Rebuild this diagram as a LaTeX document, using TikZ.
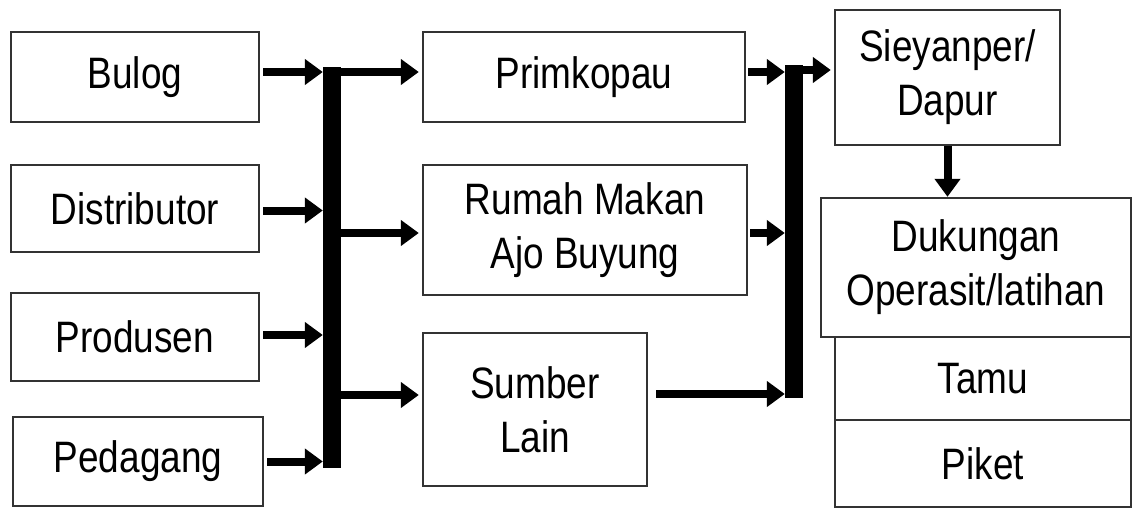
\documentclass[tikz,border=0pt]{standalone}
\usepackage{fontspec}
\setmainfont[FakeStretch=0.84]{Liberation Sans}
\usetikzlibrary{arrows.meta}
\begin{document}
\begin{tikzpicture}[x=1pt,y=-1pt,
  box/.style={draw=black!80, line width=2.4pt, inner sep=0pt, align=center,
    font=\fontsize{44}{54}\selectfont},
  feed/.style={line width=8pt, -{Triangle[length=18pt,width=25pt]}},
  busbar/.style={fill=black, draw=none, inner sep=0pt}]
\useasboundingbox (0,0) rectangle (1133,508);

% sources
\node[box, minimum width=248, minimum height=90] (bulog) at (135,77) {Bulog};
\node[box, minimum width=248, minimum height=87] (dist) at (135,208.5) {Distributor};
\node[box, minimum width=248, minimum height=88] (prod) at (135,337) {Produsen};
\node[box, minimum width=250, minimum height=89] (pedag) at (138,461.5) {Pedagang};

% suppliers
\node[box, minimum width=322, minimum height=90] (prim) at (584,77) {Primkopau};
\node[box, minimum width=324, minimum height=130] (rumah) at (585,230) {Rumah Makan\\Ajo Buyung};
\node[box, minimum width=224, minimum height=153] (sumber) at (535,409.5) {Sumber\\Lain};

% kitchen and consumers
\node[box, minimum width=225, minimum height=135] (dapur) at (947.5,77.5) {Sieyanper/\\Dapur};
\node[box, minimum width=310, minimum height=139] (dukung) at (976,267.5) {Dukungan\\Operasit/latihan};
\node[box, minimum width=296, minimum height=83] (tamu) at (983,378.5) {Tamu};
\node[box, minimum width=296, minimum height=87] (piket) at (983,463.5) {Piket};

% collecting bars
\node[busbar, minimum width=18, minimum height=401] (bar1) at (332,267.5) {};
\node[busbar, minimum width=18, minimum height=333] (bar2) at (794,231.5) {};

% sources into first bar
\draw[feed] ([xshift=3pt,yshift=5pt]bulog.east) -- ([yshift=5pt]bulog.east -| bar1.west);
\draw[feed] ([xshift=3pt,yshift=-2pt]dist.east) -- ([yshift=-2pt]dist.east -| bar1.west);
\draw[feed] ([xshift=3pt,yshift=2pt]prod.east) -- ([yshift=2pt]prod.east -| bar1.west);
\draw[feed] ([xshift=3pt]pedag.east) -- (pedag.east -| bar1.west);

% first bar out to suppliers
\draw[feed] ([yshift=5pt]prim.west -| bar1.east) -- ([xshift=-3pt,yshift=5pt]prim.west);
\draw[feed] ([yshift=-3pt]rumah.west -| bar1.east) -- ([xshift=-3pt,yshift=-3pt]rumah.west);
\draw[feed] ([yshift=14.5pt]sumber.west -| bar1.east) -- ([xshift=-3pt,yshift=14.5pt]sumber.west);

% suppliers into second bar
\draw[feed] ([xshift=2pt,yshift=5pt]prim.east) -- ([yshift=5pt]prim.east -| bar2.west);
\draw[feed] ([xshift=2pt,yshift=-3pt]rumah.east) -- ([yshift=-3pt]rumah.east -| bar2.west);
\draw[feed] ([xshift=8pt,yshift=15.5pt]sumber.east) -- ([yshift=15.5pt]sumber.east -| bar2.west);

% second bar to the kitchen, kitchen down to consumers
\draw[feed] ([yshift=7.5pt]dapur.west -| bar2.east) -- ([xshift=-3pt,yshift=7.5pt]dapur.west);
\draw[feed] (dapur.south) -- (dapur.south |- dukung.north);
\end{tikzpicture}
\end{document}
